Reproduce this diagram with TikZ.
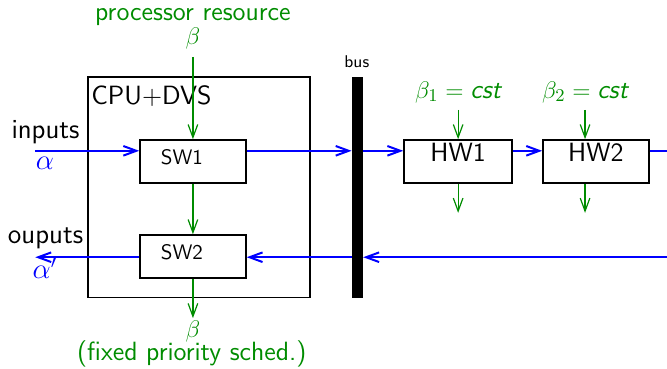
\documentclass[tikz,border=0pt]{standalone}
\usetikzlibrary{arrows.meta,calc}
\renewcommand{\familydefault}{\sfdefault}
\definecolor{resgreen}{RGB}{0,140,0}

\begin{document}
\begin{tikzpicture}[>={Straight Barb[length=6.5pt,width=4.8pt]},font=\fontsize{13.2}{15}\selectfont,
    box/.style={draw,line width=0.8pt,minimum height=0.76cm,inner sep=0pt},
    sw/.style={box,minimum width=1.86cm,font=\fontsize{10.5}{12}\selectfont,text depth=4.7pt},
    hw/.style={box,minimum width=1.90cm,text depth=8.8pt},
    io/.style={font=\fontsize{13.8}{16}\selectfont},
    flow/.style={->,blue,line width=1pt}, res/.style={->,resgreen,line width=0.6pt}]
    \useasboundingbox (0,0) rectangle (11.72,-6.47);
    % processor side
    \node[resgreen] (procres) at (3.39,-0.30) {processor resource};
    \node[resgreen] (betain) at (3.39,-0.67) {$\beta$};
    \coordinate (betatop) at (3.39,-1.00);
    \node[box,minimum width=3.90cm,minimum height=3.88cm] (cpu) at (3.50,-3.29) {};
    \node[anchor=west,inner sep=0pt] (cpulbl) at (1.60,-1.69) {CPU+DVS};
    \node[sw] (sw1) at (3.39,-2.84) {SW1\kern11pt};
    \node[sw] (sw2) at (3.39,-4.51) {SW2\kern11pt};
    \coordinate (betabot) at (3.39,-5.59);
    \node[resgreen,inner sep=1pt] (betaout) at (3.39,-5.82) {$\beta$};
    \node[resgreen,inner sep=1pt] (sched) at (3.37,-6.22) {(fixed priority sched.)};

    % bus
    \node[fill,minimum width=0.19cm,minimum height=3.88cm,inner sep=0pt] (bus) at (6.28,-3.29) {};
    \node[font=\fontsize{8.5}{10}\selectfont] (buslbl) at (6.27,-1.09) {bus};

    % hardware side
    \node[hw] (hw1) at (8.05,-2.84) {HW1};
    \node[hw,minimum width=1.86cm] (hw2) at (10.47,-2.84) {HW2};
    \node[resgreen] (beta1) at (8.05,-1.62) {$\beta_1 = \textit{cst}$};
    \node[resgreen] (beta2) at (10.28,-1.62) {$\beta_2 = \textit{cst}$};
    \coordinate (hw1out) at (8.05,-3.74);
    \coordinate (hw2out) at (10.28,-3.74);

    % inputs / outputs
    \node[io] (inlbl) at (0.80,-2.33) {inputs};
    \node[io,blue,font=\fontsize{15}{17}\selectfont] (alpha) at (0.79,-2.87) {$\alpha$};
    \node[io,inner sep=1pt] (outlbl) at (0.80,-4.19) {ouputs};
    \node[blue,inner sep=0.5pt,font=\fontsize{14}{16}\selectfont] (alphaout) at (0.79,-4.71) {$\alpha'$};
    \coordinate (inL) at (0.62,-2.65);
    \coordinate (inR) at (11.72,-2.65);
    \coordinate (outL) at (0.62,-4.52);
    \coordinate (outR) at (11.72,-4.52);

    \draw[flow] (inL) -- (inL -| sw1.west);
    \draw[flow] (inL -| sw1.east) -- (inL -| bus.west);
    \draw[flow] (inL -| bus.east) -- (inL -| hw1.west);
    \draw[flow] (inL -| hw1.east) -- (inL -| hw2.west);
    \draw[flow,-] (inL -| hw2.east) -- (inR);
    \draw[flow] (outR) -- (outR -| bus.east);
    \draw[flow] (outL -| bus.west) -- (outL -| sw2.east);
    \draw[flow] (outL -| sw2.west) -- (outL);

    \draw[res] (betatop) -- (sw1.north);
    \draw[res] (sw1) -- (sw2);
    \draw[res] (sw2) -- (betabot);
    \draw[res] (beta1) -- (hw1);
    \draw[res] (beta2) -- (beta2 |- hw2.north);
    \draw[res] (hw1) -- (hw1out);
    \draw[res] (hw2out |- hw2.south) -- (hw2out);
\end{tikzpicture}
\end{document}
